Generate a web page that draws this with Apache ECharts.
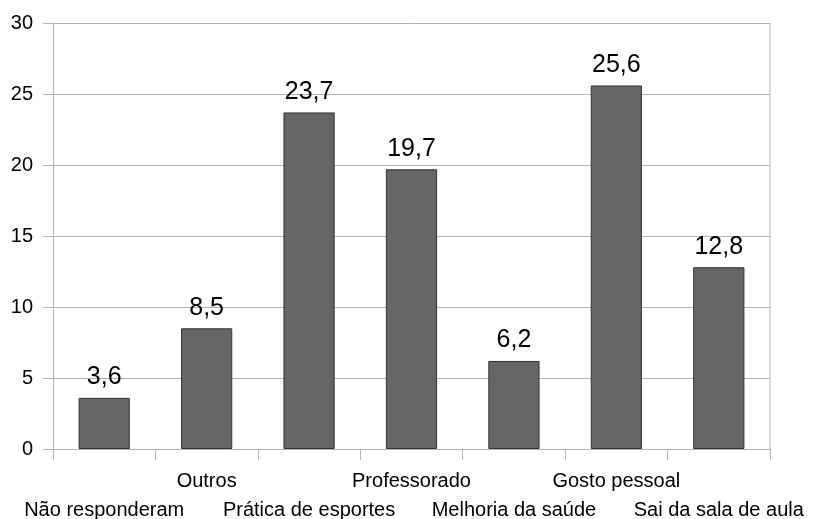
<!DOCTYPE html>
<html>
<head>
<meta charset="utf-8">
<script src="https://cdn.jsdelivr.net/npm/echarts@6/dist/echarts.min.js"></script>
<style>html,body{margin:0;padding:0;background:#fff}#c{width:813px;height:519px}</style>
</head>
<body>
<div id="c"></div>
<script>
const categories = ['Não responderam', 'Outros', 'Prática de esportes', 'Professorado', 'Melhoria da saúde', 'Gosto pessoal', 'Sai da sala de aula'];
const values = [3.6, 8.5, 23.7, 19.7, 6.2, 25.6, 12.8];
const yTicks = [0, 5, 10, 15, 20, 25, 30];

const font = 'Liberation Sans, Arial, sans-serif';
const chart = echarts.init(document.getElementById('c'), null, { renderer: 'canvas' });
chart.setOption({
  animation: false,
  grid: { left: 53, right: 43, top: 23, bottom: 70, containLabel: false, outerBoundsMode: 'none' },
  xAxis: {
    type: 'category',
    data: categories,
    boundaryGap: true,
    axisLine: { lineStyle: { color: '#b3b3b3', width: 1 } },
    axisTick: { show: true, length: 11, lineStyle: { color: '#b3b3b3' } },
    axisLabel: {
      interval: 0,
      color: '#000',
      fontFamily: font,
      fontSize: 20,
      lineHeight: 29,
      margin: 18,
      // alternate labels drop to a second row so they don't collide
      formatter: (v, i) => (i % 2 === 0 ? '\n' + v : v)
    },
    splitLine: { show: false }
  },
  yAxis: {
    type: 'value',
    min: yTicks[0],
    max: yTicks[yTicks.length - 1],
    interval: 5,
    axisLine: { show: true, lineStyle: { color: '#b3b3b3' } },
    axisTick: { show: true, length: 10, lineStyle: { color: '#b3b3b3' } },
    axisLabel: { color: '#000', fontFamily: font, fontSize: 20, margin: 20 },
    splitLine: { show: true, lineStyle: { color: '#b3b3b3', width: 1 } }
  },
  series: [{
    type: 'bar',
    data: values,
    barWidth: '50%',
    itemStyle: { color: '#666666', borderColor: '#333333', borderWidth: 1 },
    label: {
      show: true,
      position: 'top',
      distance: 8,
      color: '#000',
      fontFamily: font,
      fontSize: 25,
      formatter: p => String(p.value).replace('.', ',')
    }
  }]
});
// right-hand frame line of the plot area
const g = chart.getModel().getComponent('grid').coordinateSystem.getRect();
chart.setOption({
  graphic: [{
    type: 'line',
    shape: { x1: g.x + g.width, y1: g.y, x2: g.x + g.width, y2: g.y + g.height },
    style: { stroke: '#b3b3b3', lineWidth: 1 }
  }]
});
</script>
</body>
</html>
